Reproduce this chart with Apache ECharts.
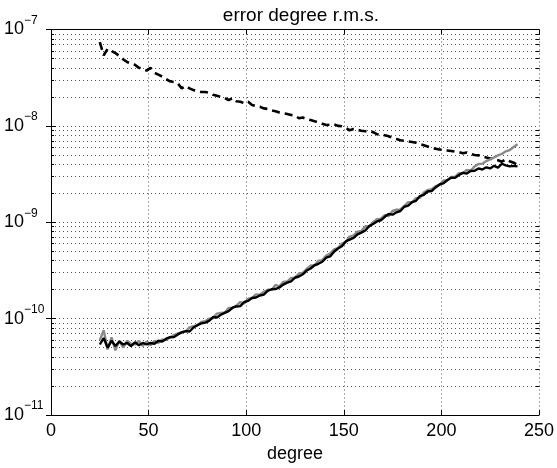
<!DOCTYPE html>
<html>
<head>
<meta charset="utf-8">
<script src="https://cdn.jsdelivr.net/npm/echarts@6/dist/echarts.min.js"></script>
<style>
html,body{margin:0;padding:0;background:#fff;}
#chart{width:557px;height:468px;}
</style>
</head>
<body>
<div id="chart"></div>
<script>
// degrees (x values)
var degrees = [25,27,29,31,33,35,37,39,41,43,45,47,49,51,53,55,57,59,61,63,65,67,69,71,73,75,77,79,81,83,85,87,89,91,93,95,97,99,101,103,105,107,109,111,113,115,117,119,121,123,125,127,129,131,133,135,137,139,141,143,145,147,149,151,153,155,157,159,161,163,165,167,169,171,173,175,177,179,181,183,185,187,189,191,193,195,197,199,201,203,205,207,209,211,213,215,217,219,221,223,225,227,229,231,233,235,237,239];

// dashed black series
var dashedValues = [7.4e-8,5.4e-8,6.3e-8,6.0e-8,5.7e-8,5.3e-8,4.9e-8,4.6e-8,4.4e-8,4.3e-8,4.0e-8,3.9e-8,3.75e-8,4.0e-8,3.55e-8,3.4e-8,3.25e-8,3.05e-8,2.9e-8,2.85e-8,2.75e-8,2.45e-8,2.6e-8,2.45e-8,2.35e-8,2.3e-8,2.25e-8,2.25e-8,2.2e-8,2.1e-8,2.05e-8,2.0e-8,1.95e-8,1.85e-8,1.95e-8,1.8e-8,1.78e-8,1.72e-8,1.78e-8,1.65e-8,1.6e-8,1.58e-8,1.52e-8,1.5e-8,1.45e-8,1.42e-8,1.38e-8,1.35e-8,1.33e-8,1.3e-8,1.28e-8,1.2e-8,1.22e-8,1.18e-8,1.15e-8,1.12e-8,1.08e-8,1.05e-8,1.02e-8,1.03e-8,1.04e-8,1.0e-8,9.9e-9,9.6e-9,9.0e-9,9.3e-9,9.1e-9,8.9e-9,8.8e-9,8.9e-9,8.6e-9,8.2e-9,8.1e-9,8.0e-9,7.8e-9,7.5e-9,7.3e-9,7.1e-9,7.0e-9,6.9e-9,6.8e-9,6.7e-9,6.5e-9,6.3e-9,6.1e-9,5.9e-9,5.8e-9,5.7e-9,5.6e-9,5.55e-9,5.5e-9,5.4e-9,5.35e-9,5.2e-9,5.3e-9,5.1e-9,5.0e-9,4.95e-9,4.8e-9,4.7e-9,4.6e-9,4.5e-9,4.4e-9,4.25e-9,4.5e-9,4.3e-9,4.15e-9,3.95e-9];

// gray solid series
var grayValues = [6.0e-11,7.6e-11,4.8e-11,6.4e-11,4.7e-11,5.9e-11,5.0e-11,5.9e-11,5.5e-11,5.4e-11,5.9e-11,5.2e-11,5.8e-11,5.3e-11,5.9e-11,5.6e-11,6.1e-11,6.0e-11,
  6.40e-11,6.76e-11,7.03e-11,7.24e-11,7.39e-11,8.14e-11,8.38e-11,8.54e-11,9.26e-11,9.41e-11,1.00e-10,1.01e-10,1.13e-10,1.15e-10,1.16e-10,1.29e-10,1.29e-10,1.37e-10,1.49e-10,1.44e-10,1.61e-10,1.64e-10,1.79e-10,1.77e-10,1.90e-10,2.00e-10,1.99e-10,2.24e-10,2.17e-10,2.41e-10,2.43e-10,2.65e-10,2.67e-10,2.94e-10,2.99e-10,3.28e-10,3.56e-10,3.59e-10,4.00e-10,4.05e-10,4.51e-10,4.73e-10,5.25e-10,5.41e-10,6.01e-10,6.26e-10,7.12e-10,7.33e-10,7.98e-10,8.13e-10,9.10e-10,9.02e-10,1.00e-9,1.08e-9,1.09e-9,1.19e-9,1.16e-9,1.31e-9,1.35e-9,1.36e-9,1.48e-9,1.62e-9,1.61e-9,1.78e-9,1.80e-9,2.04e-9,2.16e-9,2.20e-9,2.37e-9,2.43e-9,2.72e-9,2.72e-9,2.96e-9,2.96e-9,3.24e-9,3.25e-9,3.49e-9,3.44e-9,3.79e-9,4.03e-9,4.06e-9,
  4.32e-9,4.50e-9,4.72e-9,4.95e-9,5.12e-9,5.45e-9,5.62e-9,6.05e-9,6.45e-9];

// black solid series
var blackValues = [5.4e-11,6.3e-11,5.0e-11,5.9e-11,5.2e-11,5.8e-11,5.4e-11,5.6e-11,5.2e-11,5.7e-11,5.3e-11,5.6e-11,5.4e-11,5.6e-11,5.5e-11,5.9e-11,5.8e-11,6.2e-11,
  6.43e-11,6.47e-11,6.87e-11,7.21e-11,7.43e-11,7.37e-11,8.1e-11,8.57e-11,8.94e-11,9.11e-11,9.50e-11,1.04e-10,1.03e-10,1.10e-10,1.15e-10,1.20e-10,1.30e-10,1.34e-10,1.35e-10,1.49e-10,1.53e-10,1.64e-10,1.66e-10,1.74e-10,1.78e-10,1.94e-10,2.02e-10,2.03e-10,2.11e-10,2.26e-10,2.37e-10,2.44e-10,2.66e-10,2.74e-10,2.89e-10,3.16e-10,3.32e-10,3.58e-10,3.71e-10,3.90e-10,4.29e-10,4.43e-10,4.95e-10,5.35e-10,5.64e-10,6.33e-10,6.62e-10,6.89e-10,7.50e-10,7.82e-10,8.23e-10,9.12e-10,9.60e-10,1.02e-9,1.05e-9,1.14e-9,1.22e-9,1.20e-9,1.27e-9,1.31e-9,1.45e-9,1.49e-9,1.62e-9,1.67e-9,1.87e-9,1.93e-9,2.09e-9,2.11e-9,2.30e-9,2.47e-9,2.53e-9,2.73e-9,2.90e-9,2.89e-9,3.10e-9,3.26e-9,3.20e-9,3.41e-9,3.42e-9,3.62e-9,3.53e-9,
  3.72e-9,3.62e-9,3.85e-9,3.70e-9,4.05e-9,3.90e-9,3.80e-9,3.85e-9,3.80e-9];

// axis ticks
var yMajorTicks = [1e-11, 1e-10, 1e-9, 1e-8, 1e-7];
var yMinorTicks = [2e-11,3e-11,4e-11,5e-11,6e-11,7e-11,8e-11,9e-11,
                   2e-10,3e-10,4e-10,5e-10,6e-10,7e-10,8e-10,9e-10,
                   2e-9,3e-9,4e-9,5e-9,6e-9,7e-9,8e-9,9e-9,
                   2e-8,3e-8,4e-8,5e-8,6e-8,7e-8,8e-8,9e-8];

var FONT = '"Liberation Sans", Arial, Helvetica, sans-serif';
var gridLine = { color: '#555', width: 1, type: [1, 3] };
var GRID = { left: 51, right: 17, top: 29.5, bottom: 52.5 };
var plotW = 557 - GRID.left - GRID.right;

function pairs(vals) { return degrees.map(function (d, i) { return [d, vals[i]]; }); }
var minorExp = yMinorTicks.map(function (v) { return Math.log10(v); });
var logMin = Math.log10(yMajorTicks[0]);
var logMax = Math.log10(yMajorTicks[yMajorTicks.length - 1]);

var chart = echarts.init(document.getElementById('chart'), null, { renderer: 'canvas' });

var yLog = { type: 'log', logBase: 10, min: yMajorTicks[0], max: yMajorTicks[yMajorTicks.length - 1] };
var yLin = { type: 'value', min: logMin, max: logMax, axisLine: { show: false }, axisLabel: { show: false }, splitLine: { show: false } };

chart.setOption({
  animation: false,
  backgroundColor: '#fff',
  title: {
    text: 'error degree r.m.s.', left: 296, top: 1, textAlign: 'center',
    textStyle: { fontFamily: FONT, fontSize: 19, fontWeight: 'normal', color: '#000' }
  },
  grid: { left: GRID.left, right: GRID.right, top: GRID.top, bottom: GRID.bottom, containLabel: false },
  xAxis: [{
    type: 'value', min: 0, max: 250, interval: 50, position: 'bottom',
    name: 'degree', nameLocation: 'middle', nameGap: 29,
    nameTextStyle: { fontFamily: FONT, fontSize: 18, color: '#000' },
    axisLine: { show: true, lineStyle: { color: '#000', width: 1 } },
    axisTick: { show: true, inside: true, length: 5, lineStyle: { color: '#000' } },
    axisLabel: { fontFamily: FONT, fontSize: 18, color: '#000', margin: 7 },
    splitLine: { show: true, lineStyle: gridLine }
  }, {
    type: 'value', min: 0, max: 250, interval: 50, position: 'top',
    axisLine: { show: true, lineStyle: { color: '#000', width: 1 } },
    axisTick: { show: true, inside: true, length: 5, lineStyle: { color: '#000' } },
    axisLabel: { show: false }, splitLine: { show: false }
  }],
  yAxis: [
    Object.assign({}, yLog, {
      position: 'left',
      axisLine: { show: true, lineStyle: { color: '#000', width: 1 } },
      axisTick: { show: true, inside: true, length: 5, lineStyle: { color: '#000' } },
      axisLabel: {
        align: 'left', margin: 47,
        formatter: function (v) {
          var e = Math.round(Math.log10(v));
          return '{b|10}{s|' + String(e).replace('-', '\u2212') + '}';
        },
        rich: {
          b: { fontFamily: FONT, fontSize: 18, color: '#000', lineHeight: 30 },
          s: { fontFamily: FONT, fontSize: 12, color: '#000', lineHeight: 14, verticalAlign: 'top' }
        }
      },
      splitLine: { show: true, lineStyle: gridLine }
    }),
    Object.assign({}, yLog, {
      position: 'right',
      axisLine: { show: true, lineStyle: { color: '#000', width: 1 } },
      axisTick: { show: true, inside: true, length: 5, lineStyle: { color: '#000' } },
      axisLabel: { show: false }, splitLine: { show: false }
    }),
    // minor grid lines (dotted, full width) on a log10-space helper axis
    Object.assign({}, yLin, {
      position: 'left',
      axisTick: { show: true, inside: true, length: plotW, customValues: minorExp, lineStyle: gridLine }
    }),
    // minor tick marks, left and right
    Object.assign({}, yLin, {
      position: 'left',
      axisTick: { show: true, inside: true, length: 3, customValues: minorExp, lineStyle: { color: '#000' } }
    }),
    Object.assign({}, yLin, {
      position: 'right',
      axisTick: { show: true, inside: true, length: 3, customValues: minorExp, lineStyle: { color: '#000' } }
    })
  ],
  series: [{
    type: 'line', xAxisIndex: 0, yAxisIndex: 0, data: pairs(dashedValues),
    symbol: 'none', silent: true,
    lineStyle: { color: '#000', width: 2.6, type: [8, 5] }
  }, {
    type: 'line', xAxisIndex: 0, yAxisIndex: 0, data: pairs(grayValues),
    symbol: 'none', silent: true,
    lineStyle: { color: '#8a8a8a', width: 2.4 }
  }, {
    type: 'line', xAxisIndex: 0, yAxisIndex: 0, data: pairs(blackValues),
    symbol: 'none', silent: true,
    lineStyle: { color: '#000', width: 2.4 }
  }]
});
</script>
</body>
</html>
